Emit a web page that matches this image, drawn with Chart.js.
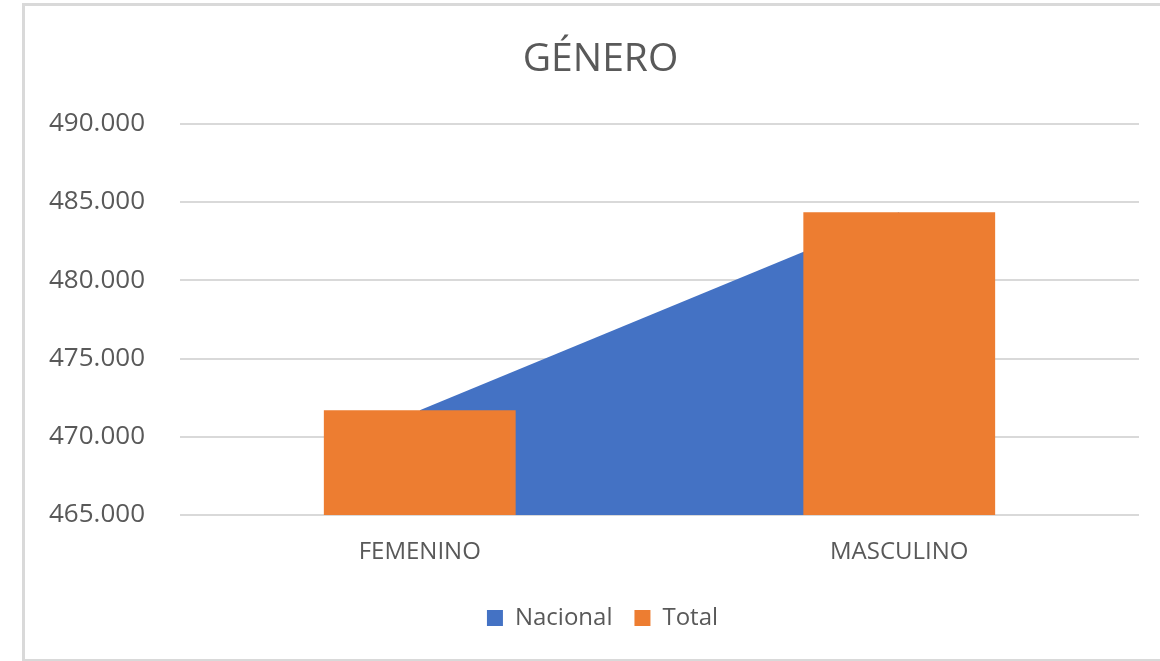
<!DOCTYPE html>
<html>
<head>
<meta charset="utf-8">
<script src="https://cdn.jsdelivr.net/npm/chart.js@4"></script>
<style>
  body { margin: 0; background: #fff; }
  canvas { display: block; }
</style>
</head>
<body>
<canvas id="generoChart" width="1160" height="661"></canvas>
<script>
const categories = ["FEMENINO", "MASCULINO"];
const nacional = [471700, 484350];
const total = [471700, 484350];

const yMin = 465000;
const yMax = 490000;
const yStep = 5000;

const textColor = "#595959";
const gridColor = "#d9d9d9";
const fontFamily = "'Open Sans', sans-serif";

function formatMiles(v) {
  return Math.round(v).toString().replace(/\B(?=(\d{3})+(?!\d))/g, ".");
}

// marco gris + centrar titulo y leyenda sobre el marco, no sobre el canvas
const frame = {
  id: "frame",
  afterLayout(chart) {
    if (chart.titleBlock) chart.titleBlock.left = 62;
    if (chart.legend) chart.legend.left = 66;
  },
  beforeDraw(chart) {
    const ctx = chart.ctx;
    ctx.save();
    ctx.fillStyle = "#fff";
    ctx.fillRect(0, 0, chart.width, chart.height);
    ctx.strokeStyle = gridColor;
    ctx.lineWidth = 3;
    ctx.strokeRect(23.5, 4.5, 1160, 656);
    ctx.restore();
  }
};

const ctx = document.getElementById("generoChart").getContext("2d");

new Chart(ctx, {
  data: {
    labels: categories,
    datasets: [{
      type: "line",
      label: "Nacional",
      data: nacional,
      backgroundColor: "#4472C4",
      borderColor: "#4472C4",
      borderWidth: 0,
      pointRadius: 0,
      tension: 0,
      fill: "start",
      order: 2
    }, {
      type: "bar",
      label: "Total",
      data: total,
      backgroundColor: "#ED7D31",
      borderWidth: 0,
      categoryPercentage: 0.4,
      barPercentage: 1,
      order: 1
    }]
  },
  options: {
    responsive: false,
    animation: false,
    layout: { padding: { left: 0, right: 21, top: 0, bottom: 21 } },
    plugins: {
      title: {
        display: true,
        text: "GÉNERO",
        color: textColor,
        font: { family: fontFamily, size: 39, weight: "normal" },
        padding: { top: 36, bottom: 41 }
      },
      legend: {
        position: "bottom",
        labels: {
          color: textColor,
          font: { family: fontFamily, size: 24 },
          boxWidth: 16,
          boxHeight: 16,
          padding: 22,
          sort: (a, b) => a.datasetIndex - b.datasetIndex
        }
      },
      tooltip: { enabled: false }
    },
    scales: {
      x: {
        grid: { display: false },
        border: { display: false },
        ticks: {
          color: textColor,
          font: { family: fontFamily, size: 24 },
          padding: 15
        },
        afterFit(scale) { scale.height = 69; }
      },
      y: {
        min: yMin,
        max: yMax,
        grid: { color: gridColor, lineWidth: 2, drawTicks: false },
        border: { display: false },
        ticks: {
          stepSize: yStep,
          color: textColor,
          font: { family: fontFamily, size: 26 },
          padding: 35,
          callback: v => formatMiles(v)
        },
        afterFit(scale) { scale.width = 180; }
      }
    }
  },
  plugins: [frame]
});
</script>
</body>
</html>
